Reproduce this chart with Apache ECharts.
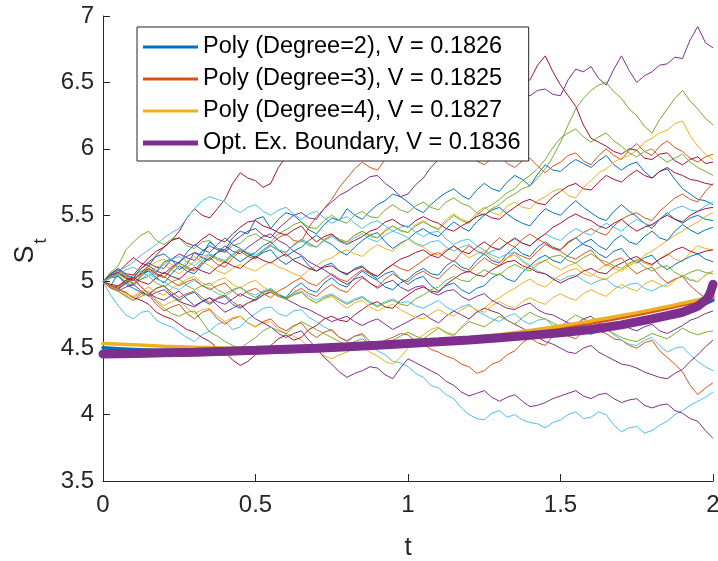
<!DOCTYPE html>
<html>
<head>
<meta charset="utf-8">
<script src="https://cdn.jsdelivr.net/npm/echarts@6/dist/echarts.min.js"></script>
<style>
  html, body { margin: 0; padding: 0; background: #fff; }
  #chart { width: 718px; height: 561px; }
</style>
</head>
<body>
<div id="chart"></div>
<script>
// time grid of the simulated paths (step 0.025)
const times = [0, 0.025, 0.05, 0.075, 0.1, 0.125, 0.15, 0.175, 0.2, 0.225,
  0.25, 0.275, 0.3, 0.325, 0.35, 0.375, 0.4, 0.425, 0.45, 0.475,
  0.5, 0.525, 0.55, 0.575, 0.6, 0.625, 0.65, 0.675, 0.7, 0.725,
  0.75, 0.775, 0.8, 0.825, 0.85, 0.875, 0.9, 0.925, 0.95, 0.975,
  1, 1.025, 1.05, 1.075, 1.1, 1.125, 1.15, 1.175, 1.2, 1.225,
  1.25, 1.275, 1.3, 1.325, 1.35, 1.375, 1.4, 1.425, 1.45, 1.475,
  1.5, 1.525, 1.55, 1.575, 1.6, 1.625, 1.65, 1.675, 1.7, 1.725,
  1.75, 1.775, 1.8, 1.825, 1.85, 1.875, 1.9, 1.925, 1.95, 1.975, 2];

// MATLAB default colour order, cycled over the paths
const pathColors = ['#0072BD', '#D95319', '#EDB120', '#7E2F8E', '#77AC30', '#4DBEEE', '#A2142F'];

// sample paths S_t
const paths = [
  [5.00, 4.97, 5.06, 5.03, 4.98, 5.05, 5.10, 5.07, 5.15, 5.17, 5.09, 5.13, 5.22, 5.20, 5.30, 5.25, 5.24, 5.33, 5.38, 5.36,
   5.47, 5.49, 5.40, 5.47, 5.52, 5.50, 5.45, 5.39, 5.36, 5.43, 5.48, 5.46, 5.55, 5.50, 5.47, 5.53, 5.58, 5.61, 5.66, 5.64,
   5.60, 5.55, 5.52, 5.58, 5.63, 5.67, 5.70, 5.65, 5.62, 5.69, 5.74, 5.70, 5.68, 5.75, 5.80, 5.77, 5.72, 5.81, 5.88, 5.84,
   5.83, 5.88, 5.92, 5.89, 5.86, 5.91, 5.95, 5.88, 5.84, 5.88, 5.90, 5.83, 5.78, 5.83, 5.85, 5.77, 5.70, 5.66, 5.62, 5.61,
   5.58],
  [5.00, 5.04, 5.05, 4.99, 4.97, 5.04, 5.09, 5.05, 5.03, 5.10, 5.14, 5.10, 5.08, 5.14, 5.18, 5.13, 5.11, 5.18, 5.23, 5.19,
   5.17, 5.24, 5.28, 5.33, 5.36, 5.31, 5.30, 5.41, 5.49, 5.55, 5.62, 5.71, 5.78, 5.85, 5.90, 5.86, 5.84, 5.92, 5.98, 6.04,
   6.08, 6.03, 6.02, 6.09, 6.14, 6.09, 6.06, 6.00, 5.96, 5.91, 5.88, 5.93, 5.95, 5.89, 5.86, 5.91, 5.93, 5.87, 5.82, 5.87,
   5.90, 5.95, 5.97, 5.91, 5.88, 5.95, 6.00, 5.95, 5.92, 5.99, 6.04, 5.98, 5.95, 6.02, 6.06, 6.01, 5.98, 5.93, 5.90, 5.94,
   5.96],
  [5.00, 5.03, 5.05, 5.00, 4.98, 5.04, 5.08, 5.11, 5.13, 5.09, 5.06, 5.11, 5.15, 5.19, 5.21, 5.16, 5.14, 5.20, 5.24, 5.20,
   5.19, 5.24, 5.27, 5.23, 5.22, 5.28, 5.31, 5.27, 5.26, 5.32, 5.35, 5.31, 5.29, 5.35, 5.38, 5.34, 5.33, 5.39, 5.42, 5.38,
   5.37, 5.43, 5.46, 5.42, 5.40, 5.47, 5.51, 5.47, 5.45, 5.52, 5.56, 5.52, 5.50, 5.57, 5.60, 5.56, 5.55, 5.61, 5.64, 5.68,
   5.70, 5.65, 5.63, 5.71, 5.76, 5.82, 5.85, 5.90, 5.93, 5.95, 5.99, 6.05, 6.08, 6.12, 6.14, 6.19, 6.21, 6.10, 6.02, 5.96,
   5.92],
  [5.00, 5.05, 5.08, 5.04, 5.03, 5.10, 5.14, 5.11, 5.10, 5.17, 5.21, 5.18, 5.16, 5.23, 5.27, 5.24, 5.22, 5.30, 5.34, 5.38,
   5.40, 5.35, 5.33, 5.40, 5.45, 5.50, 5.52, 5.48, 5.47, 5.55, 5.60, 5.65, 5.68, 5.72, 5.75, 5.79, 5.80, 5.74, 5.70, 5.64,
   5.66, 5.73, 5.78, 5.86, 5.92, 5.98, 6.05, 6.10, 6.15, 6.19, 6.22, 6.27, 6.30, 6.33, 6.36, 6.41, 6.40, 6.44, 6.45, 6.41,
   6.40, 6.52, 6.60, 6.58, 6.62, 6.53, 6.48, 6.60, 6.70, 6.59, 6.50, 6.55, 6.58, 6.63, 6.64, 6.69, 6.68, 6.82, 6.92, 6.80,
   6.76],
  [5.00, 5.07, 5.12, 5.24, 5.30, 5.35, 5.38, 5.31, 5.28, 5.32, 5.33, 5.27, 5.25, 5.30, 5.31, 5.25, 5.22, 5.27, 5.29, 5.34,
   5.36, 5.32, 5.30, 5.36, 5.39, 5.43, 5.45, 5.41, 5.40, 5.46, 5.50, 5.46, 5.44, 5.50, 5.53, 5.49, 5.48, 5.54, 5.58, 5.54,
   5.52, 5.57, 5.60, 5.56, 5.54, 5.60, 5.63, 5.59, 5.57, 5.52, 5.50, 5.55, 5.58, 5.63, 5.66, 5.70, 5.72, 5.78, 5.85, 5.94,
   6.05, 6.18, 6.30, 6.38, 6.44, 6.48, 6.50, 6.43, 6.38, 6.30, 6.25, 6.17, 6.12, 6.22, 6.30, 6.38, 6.44, 6.36, 6.30, 6.23,
   6.18],
  [5.00, 4.90, 4.82, 4.75, 4.72, 4.77, 4.78, 4.71, 4.68, 4.66, 4.62, 4.58, 4.55, 4.60, 4.63, 4.68, 4.70, 4.64, 4.66, 4.72,
   4.76, 4.80, 4.81, 4.76, 4.74, 4.78, 4.79, 4.73, 4.70, 4.66, 4.63, 4.58, 4.56, 4.59, 4.60, 4.52, 4.48, 4.45, 4.40, 4.39,
   4.36, 4.31, 4.28, 4.22, 4.20, 4.15, 4.12, 4.05, 4.00, 3.97, 3.96, 4.01, 4.03, 3.98, 4.00, 3.96, 3.94, 3.93, 3.90, 3.94,
   3.96, 4.00, 4.02, 3.97, 3.98, 4.02, 4.00, 3.92, 3.87, 3.90, 3.91, 3.86, 3.88, 3.92, 3.95, 4.00, 4.03, 4.07, 4.10, 4.13,
   4.17],
  [5.00, 5.04, 5.07, 5.13, 5.18, 5.14, 5.12, 5.20, 5.26, 5.31, 5.38, 5.48, 5.55, 5.50, 5.48, 5.55, 5.62, 5.74, 5.82, 5.78,
   5.76, 5.71, 5.74, 5.86, 5.94, 5.92, 5.98, 6.02, 6.05, 6.09, 6.12, 6.16, 6.18, 6.13, 6.15, 6.19, 6.22, 6.26, 6.28, 6.23,
   6.24, 6.28, 6.30, 6.33, 6.35, 6.30, 6.28, 6.33, 6.36, 6.40, 6.42, 6.37, 6.38, 6.42, 6.45, 6.49, 6.52, 6.63, 6.70, 6.58,
   6.48, 6.40, 6.32, 6.18, 6.08, 6.05, 6.02, 5.98, 5.96, 6.00, 5.99, 5.93, 5.92, 5.96, 5.97, 5.91, 5.88, 5.92, 5.94, 5.89,
   5.90],

  [5.00, 4.96, 4.94, 4.99, 5.03, 5.06, 5.08, 5.03, 4.99, 5.06, 5.12, 5.08, 5.06, 5.13, 5.18, 5.22, 5.24, 5.19, 5.15, 5.19,
   5.22, 5.27, 5.30, 5.24, 5.19, 5.23, 5.26, 5.31, 5.35, 5.31, 5.28, 5.23, 5.20, 5.26, 5.31, 5.35, 5.37, 5.30, 5.25, 5.29,
   5.32, 5.37, 5.40, 5.36, 5.34, 5.40, 5.45, 5.41, 5.38, 5.45, 5.50, 5.54, 5.56, 5.51, 5.47, 5.44, 5.42, 5.49, 5.55, 5.52,
   5.50, 5.56, 5.61, 5.56, 5.52, 5.48, 5.46, 5.53, 5.58, 5.53, 5.49, 5.44, 5.40, 5.47, 5.52, 5.47, 5.44, 5.48, 5.50, 5.47,
   5.46],
  [5.00, 4.95, 4.93, 4.89, 4.86, 4.91, 4.90, 4.83, 4.78, 4.81, 4.83, 4.76, 4.72, 4.77, 4.79, 4.72, 4.68, 4.72, 4.74, 4.69,
   4.66, 4.70, 4.72, 4.66, 4.63, 4.67, 4.69, 4.62, 4.58, 4.62, 4.64, 4.58, 4.55, 4.59, 4.61, 4.55, 4.52, 4.56, 4.58, 4.61,
   4.60, 4.55, 4.53, 4.49, 4.47, 4.44, 4.42, 4.38, 4.36, 4.31, 4.33, 4.38, 4.40, 4.45, 4.48, 4.54, 4.58, 4.54, 4.52, 4.59,
   4.63, 4.59, 4.57, 4.63, 4.68, 4.63, 4.61, 4.57, 4.56, 4.52, 4.50, 4.54, 4.56, 4.48, 4.43, 4.38, 4.32, 4.22, 4.15, 4.20,
   4.24],
  [5.00, 4.97, 4.95, 4.90, 4.88, 4.92, 4.93, 4.86, 4.82, 4.85, 4.87, 4.80, 4.76, 4.79, 4.80, 4.74, 4.70, 4.73, 4.74, 4.69,
   4.66, 4.69, 4.70, 4.64, 4.61, 4.59, 4.56, 4.51, 4.48, 4.44, 4.42, 4.45, 4.47, 4.50, 4.51, 4.47, 4.44, 4.40, 4.38, 4.43,
   4.50, 4.56, 4.60, 4.64, 4.66, 4.61, 4.59, 4.66, 4.72, 4.77, 4.80, 4.85, 4.88, 4.92, 4.95, 4.99, 5.02, 4.98, 4.96, 5.01,
   5.05, 5.08, 5.10, 5.06, 5.04, 5.09, 5.13, 5.10, 5.08, 5.13, 5.17, 5.14, 5.12, 5.17, 5.21, 5.17, 5.15, 5.22, 5.27, 5.25,
   5.24],
  [5.00, 4.97, 4.95, 4.99, 5.02, 4.96, 4.91, 4.88, 4.86, 4.90, 4.93, 4.87, 4.82, 4.85, 4.88, 4.82, 4.77, 4.80, 4.83, 4.77,
   4.72, 4.69, 4.66, 4.61, 4.58, 4.61, 4.63, 4.56, 4.50, 4.43, 4.38, 4.32, 4.28, 4.31, 4.33, 4.36, 4.35, 4.30, 4.27, 4.35,
   4.42, 4.39, 4.36, 4.33, 4.30, 4.25, 4.22, 4.17, 4.14, 4.16, 4.18, 4.13, 4.10, 4.13, 4.15, 4.10, 4.06, 4.07, 4.09, 4.12,
   4.14, 4.16, 4.18, 4.14, 4.12, 4.15, 4.16, 4.12, 4.09, 4.11, 4.12, 4.07, 4.05, 4.07, 4.08, 4.03, 4.01, 3.97, 3.95, 3.88,
   3.82],
  [5.00, 4.97, 4.96, 5.01, 5.05, 5.08, 5.10, 5.06, 5.03, 5.09, 5.14, 5.11, 5.09, 5.15, 5.20, 5.17, 5.15, 5.20, 5.24, 5.21,
   5.18, 5.23, 5.27, 5.24, 5.22, 5.28, 5.32, 5.29, 5.26, 5.31, 5.35, 5.32, 5.30, 5.35, 5.38, 5.35, 5.33, 5.38, 5.42, 5.39,
   5.37, 5.42, 5.45, 5.42, 5.39, 5.45, 5.50, 5.46, 5.44, 5.50, 5.55, 5.58, 5.62, 5.67, 5.70, 5.76, 5.80, 5.85, 5.92, 6.01,
   6.08, 6.12, 6.15, 6.09, 6.05, 6.09, 6.12, 6.06, 6.02, 5.97, 5.94, 5.98, 6.00, 5.94, 5.90, 5.93, 5.96, 5.90, 5.86, 5.83,
   5.80],
  [5.00, 5.03, 5.04, 4.99, 4.97, 5.02, 5.06, 5.02, 5.00, 4.96, 4.94, 4.98, 5.01, 4.97, 4.95, 4.91, 4.89, 4.93, 4.96, 4.92,
   4.90, 4.93, 4.95, 4.91, 4.88, 4.91, 4.93, 4.89, 4.86, 4.89, 4.91, 4.87, 4.84, 4.87, 4.89, 4.85, 4.82, 4.85, 4.87, 4.84,
   4.85, 4.82, 4.80, 4.83, 4.86, 4.81, 4.78, 4.81, 4.83, 4.78, 4.75, 4.72, 4.70, 4.74, 4.76, 4.71, 4.68, 4.71, 4.72, 4.67,
   4.64, 4.67, 4.69, 4.64, 4.60, 4.63, 4.65, 4.60, 4.56, 4.53, 4.52, 4.56, 4.58, 4.52, 4.47, 4.50, 4.51, 4.45, 4.40, 4.36,
   4.33],
  [5.00, 5.06, 5.10, 5.06, 5.05, 5.12, 5.18, 5.23, 5.26, 5.31, 5.33, 5.29, 5.27, 5.32, 5.36, 5.32, 5.30, 5.36, 5.41, 5.45,
   5.46, 5.42, 5.40, 5.37, 5.35, 5.39, 5.42, 5.35, 5.30, 5.34, 5.36, 5.31, 5.28, 5.31, 5.34, 5.38, 5.40, 5.45, 5.47, 5.43,
   5.41, 5.46, 5.49, 5.46, 5.44, 5.40, 5.38, 5.42, 5.45, 5.49, 5.51, 5.48, 5.47, 5.52, 5.56, 5.60, 5.62, 5.59, 5.58, 5.64,
   5.68, 5.72, 5.74, 5.70, 5.69, 5.75, 5.80, 5.77, 5.75, 5.80, 5.84, 5.80, 5.78, 5.83, 5.86, 5.82, 5.80, 5.77, 5.76, 5.74,
   5.73],

  [5.00, 5.03, 5.04, 4.98, 4.95, 4.92, 4.90, 4.95, 4.97, 4.90, 4.86, 4.90, 4.92, 4.86, 4.83, 4.87, 4.89, 4.83, 4.80, 4.84,
   4.87, 4.92, 4.94, 4.90, 4.88, 4.95, 4.99, 4.94, 4.92, 4.99, 5.03, 4.98, 4.96, 5.03, 5.08, 5.04, 5.01, 4.96, 4.94, 4.99,
   5.02, 5.07, 5.10, 5.06, 5.05, 5.12, 5.16, 5.11, 5.09, 5.16, 5.21, 5.16, 5.14, 5.21, 5.26, 5.21, 5.19, 5.26, 5.30, 5.26,
   5.24, 5.30, 5.33, 5.28, 5.26, 5.21, 5.18, 5.23, 5.25, 5.18, 5.14, 5.18, 5.20, 5.13, 5.09, 5.13, 5.16, 5.19, 5.21, 5.17,
   5.15],
  [5.00, 4.97, 4.96, 5.00, 5.02, 4.96, 4.91, 4.95, 4.97, 4.92, 4.88, 4.91, 4.93, 4.88, 4.84, 4.88, 4.90, 4.85, 4.81, 4.84,
   4.86, 4.90, 4.93, 4.89, 4.87, 4.92, 4.95, 4.91, 4.89, 4.94, 4.98, 4.94, 4.92, 4.98, 5.03, 4.99, 4.96, 5.02, 5.06, 5.02,
   5.00, 5.05, 5.08, 5.04, 5.02, 5.08, 5.13, 5.09, 5.07, 5.13, 5.18, 5.14, 5.12, 5.18, 5.22, 5.19, 5.17, 5.23, 5.28, 5.25,
   5.24, 5.29, 5.33, 5.37, 5.40, 5.37, 5.35, 5.42, 5.47, 5.50, 5.52, 5.48, 5.46, 5.53, 5.58, 5.63, 5.66, 5.62, 5.60, 5.68,
   5.74],
  [5.00, 5.05, 5.08, 5.04, 5.02, 5.07, 5.11, 5.15, 5.17, 5.13, 5.10, 5.15, 5.19, 5.15, 5.12, 5.08, 5.06, 5.10, 5.13, 5.10,
   5.08, 5.12, 5.15, 5.11, 5.09, 5.06, 5.04, 5.09, 5.12, 5.16, 5.18, 5.22, 5.24, 5.21, 5.19, 5.24, 5.28, 5.25, 5.23, 5.28,
   5.32, 5.28, 5.26, 5.22, 5.20, 5.24, 5.27, 5.22, 5.18, 5.21, 5.23, 5.18, 5.15, 5.18, 5.20, 5.15, 5.11, 5.14, 5.16, 5.12,
   5.09, 5.12, 5.14, 5.09, 5.06, 5.03, 5.02, 5.06, 5.09, 5.12, 5.15, 5.20, 5.23, 5.27, 5.31, 5.35, 5.38, 5.42, 5.45, 5.49,
   5.52],
  [5.00, 4.96, 4.93, 4.96, 4.98, 4.93, 4.89, 4.92, 4.94, 4.89, 4.85, 4.83, 4.81, 4.85, 4.88, 4.85, 4.83, 4.87, 4.91, 4.88,
   4.86, 4.90, 4.92, 4.89, 4.87, 4.84, 4.81, 4.79, 4.76, 4.73, 4.70, 4.72, 4.74, 4.70, 4.67, 4.70, 4.72, 4.68, 4.64, 4.67,
   4.70, 4.73, 4.76, 4.72, 4.69, 4.74, 4.78, 4.75, 4.72, 4.77, 4.80, 4.78, 4.76, 4.71, 4.68, 4.65, 4.62, 4.58, 4.55, 4.53,
   4.50, 4.47, 4.46, 4.50, 4.52, 4.47, 4.44, 4.41, 4.38, 4.37, 4.35, 4.32, 4.30, 4.28, 4.27, 4.31, 4.34, 4.40, 4.45, 4.51,
   4.56],
  [5.00, 4.96, 4.93, 4.89, 4.86, 4.89, 4.91, 4.85, 4.80, 4.76, 4.74, 4.77, 4.78, 4.70, 4.62, 4.59, 4.55, 4.52, 4.50, 4.54,
   4.58, 4.63, 4.66, 4.63, 4.61, 4.66, 4.70, 4.67, 4.64, 4.61, 4.58, 4.55, 4.52, 4.55, 4.57, 4.53, 4.50, 4.53, 4.56, 4.59,
   4.62, 4.59, 4.57, 4.61, 4.65, 4.62, 4.60, 4.65, 4.70, 4.68, 4.66, 4.70, 4.74, 4.71, 4.68, 4.73, 4.77, 4.74, 4.72, 4.69,
   4.66, 4.71, 4.75, 4.72, 4.70, 4.67, 4.64, 4.61, 4.58, 4.56, 4.55, 4.58, 4.61, 4.59, 4.57, 4.61, 4.65, 4.62, 4.60, 4.62,
   4.63],
  [5.00, 5.05, 5.08, 5.11, 5.15, 5.20, 5.24, 5.28, 5.33, 5.37, 5.40, 5.48, 5.55, 5.61, 5.64, 5.62, 5.60, 5.55, 5.52, 5.56,
   5.58, 5.53, 5.50, 5.54, 5.56, 5.51, 5.47, 5.51, 5.53, 5.48, 5.44, 5.47, 5.49, 5.44, 5.40, 5.44, 5.46, 5.42, 5.38, 5.41,
   5.42, 5.37, 5.34, 5.37, 5.38, 5.32, 5.28, 5.31, 5.32, 5.27, 5.24, 5.20, 5.18, 5.21, 5.22, 5.16, 5.12, 5.08, 5.06, 5.03,
   5.01, 5.04, 5.05, 5.01, 4.98, 5.01, 5.02, 4.97, 4.95, 4.98, 4.99, 4.95, 4.93, 4.96, 4.98, 5.02, 5.04, 5.01, 5.00, 5.05,
   5.08],
  [5.00, 4.96, 4.94, 4.92, 4.88, 4.86, 4.83, 4.77, 4.74, 4.72, 4.68, 4.64, 4.62, 4.58, 4.55, 4.50, 4.47, 4.41, 4.37, 4.40,
   4.45, 4.49, 4.52, 4.57, 4.60, 4.56, 4.58, 4.64, 4.67, 4.72, 4.74, 4.71, 4.70, 4.75, 4.79, 4.83, 4.85, 4.81, 4.80, 4.86,
   4.90, 4.94, 4.96, 4.93, 4.92, 4.98, 5.02, 5.06, 5.08, 5.05, 5.04, 5.09, 5.12, 5.15, 5.16, 5.12, 5.10, 5.07, 5.06, 5.02,
   4.99, 5.02, 5.04, 5.08, 5.10, 5.07, 5.06, 5.11, 5.14, 5.17, 5.19, 5.15, 5.13, 5.17, 5.20, 5.24, 5.26, 5.23, 5.21, 5.23,
   5.24],

  [5.00, 5.06, 5.09, 5.05, 5.03, 5.10, 5.15, 5.19, 5.21, 5.16, 5.14, 5.22, 5.28, 5.24, 5.22, 5.28, 5.33, 5.28, 5.25, 5.21,
   5.18, 5.22, 5.24, 5.17, 5.13, 5.17, 5.19, 5.12, 5.08, 5.12, 5.14, 5.08, 5.05, 5.10, 5.12, 5.06, 5.02, 5.06, 5.08, 5.02,
   4.98, 5.02, 5.04, 4.97, 4.93, 4.97, 4.99, 4.94, 4.91, 4.95, 4.97, 5.03, 5.06, 5.02, 5.00, 5.07, 5.12, 5.17, 5.20, 5.16,
   5.14, 5.20, 5.25, 5.29, 5.32, 5.27, 5.24, 5.31, 5.35, 5.30, 5.28, 5.34, 5.38, 5.33, 5.31, 5.38, 5.43, 5.39, 5.36, 5.39,
   5.41],
  [5.00, 5.05, 5.07, 5.03, 5.01, 5.06, 5.10, 5.06, 5.04, 5.00, 4.97, 5.00, 5.02, 4.97, 4.94, 4.97, 4.99, 4.93, 4.89, 4.93,
   4.95, 4.91, 4.88, 4.93, 4.96, 5.00, 5.03, 4.99, 4.97, 5.02, 5.06, 5.02, 5.00, 5.05, 5.09, 5.06, 5.04, 5.09, 5.13, 5.10,
   5.08, 5.12, 5.16, 5.20, 5.22, 5.18, 5.15, 5.22, 5.27, 5.23, 5.21, 5.28, 5.33, 5.29, 5.26, 5.32, 5.36, 5.32, 5.29, 5.25,
   5.23, 5.19, 5.17, 5.21, 5.24, 5.17, 5.12, 5.16, 5.18, 5.11, 5.06, 5.09, 5.11, 5.04, 4.99, 5.02, 5.04, 4.97, 4.92, 4.88,
   4.86],
  [5.00, 4.96, 4.94, 4.91, 4.89, 4.93, 4.96, 4.92, 4.90, 4.95, 4.98, 5.02, 5.04, 4.99, 4.97, 5.01, 5.03, 4.98, 4.95, 4.99,
   5.01, 4.96, 4.93, 4.89, 4.87, 4.90, 4.92, 4.87, 4.84, 4.87, 4.89, 4.84, 4.80, 4.84, 4.86, 4.81, 4.78, 4.81, 4.83, 4.79,
   4.76, 4.73, 4.72, 4.76, 4.79, 4.76, 4.74, 4.79, 4.82, 4.79, 4.77, 4.82, 4.85, 4.82, 4.80, 4.85, 4.88, 4.85, 4.83, 4.88,
   4.91, 4.88, 4.86, 4.91, 4.94, 4.91, 4.89, 4.94, 4.98, 4.95, 4.93, 4.98, 5.01, 4.98, 4.96, 5.01, 5.05, 5.02, 5.00, 5.05,
   5.08],
  [5.00, 5.05, 5.07, 5.03, 5.01, 5.07, 5.12, 5.08, 5.06, 5.11, 5.15, 5.19, 5.22, 5.18, 5.16, 5.22, 5.27, 5.23, 5.21, 5.26,
   5.30, 5.34, 5.36, 5.31, 5.28, 5.23, 5.20, 5.15, 5.12, 5.09, 5.05, 5.01, 4.98, 5.02, 5.04, 4.99, 4.95, 4.99, 5.01, 4.96,
   4.93, 4.96, 4.97, 4.92, 4.90, 4.93, 4.94, 4.89, 4.86, 4.89, 4.91, 4.86, 4.83, 4.80, 4.79, 4.82, 4.84, 4.79, 4.76, 4.75,
   4.72, 4.69, 4.68, 4.72, 4.74, 4.69, 4.66, 4.69, 4.70, 4.65, 4.63, 4.66, 4.68, 4.63, 4.61, 4.64, 4.67, 4.71, 4.73, 4.76,
   4.78],
  [5.00, 5.04, 5.06, 5.02, 4.99, 5.02, 5.04, 4.99, 4.96, 5.00, 5.02, 4.97, 4.94, 4.97, 4.99, 4.94, 4.91, 4.94, 4.96, 4.91,
   4.88, 4.92, 4.94, 4.90, 4.87, 4.90, 4.92, 4.87, 4.84, 4.88, 4.90, 4.86, 4.83, 4.86, 4.88, 4.84, 4.81, 4.84, 4.86, 4.83,
   4.82, 4.87, 4.90, 4.94, 4.96, 5.01, 5.04, 5.01, 5.00, 5.05, 5.09, 5.06, 5.05, 5.10, 5.13, 5.10, 5.08, 5.13, 5.16, 5.19,
   5.20, 5.16, 5.14, 5.18, 5.21, 5.17, 5.15, 5.12, 5.10, 5.14, 5.16, 5.11, 5.08, 5.11, 5.12, 5.07, 5.04, 5.07, 5.09, 5.07,
   5.06],
  [5.00, 5.03, 5.05, 5.09, 5.11, 5.07, 5.04, 5.09, 5.13, 5.17, 5.19, 5.15, 5.12, 5.17, 5.21, 5.18, 5.16, 5.21, 5.25, 5.22,
   5.20, 5.24, 5.27, 5.24, 5.22, 5.27, 5.31, 5.28, 5.26, 5.31, 5.34, 5.30, 5.28, 5.33, 5.36, 5.32, 5.30, 5.35, 5.38, 5.36,
   5.33, 5.29, 5.27, 5.30, 5.31, 5.26, 5.23, 5.26, 5.28, 5.23, 5.20, 5.23, 5.25, 5.29, 5.32, 5.29, 5.27, 5.32, 5.36, 5.33,
   5.31, 5.36, 5.40, 5.37, 5.35, 5.40, 5.44, 5.41, 5.38, 5.43, 5.47, 5.44, 5.42, 5.47, 5.51, 5.55, 5.57, 5.54, 5.53, 5.57,
   5.60],
  [5.00, 4.98, 4.97, 5.01, 5.03, 5.00, 4.98, 5.03, 5.07, 5.04, 5.02, 5.07, 5.11, 5.08, 5.06, 5.11, 5.15, 5.12, 5.10, 5.15,
   5.19, 5.16, 5.14, 5.18, 5.21, 5.16, 5.13, 5.10, 5.08, 5.11, 5.12, 5.08, 5.06, 5.09, 5.11, 5.07, 5.04, 5.09, 5.13, 5.17,
   5.19, 5.22, 5.24, 5.20, 5.18, 5.23, 5.27, 5.23, 5.21, 5.26, 5.30, 5.26, 5.24, 5.29, 5.33, 5.29, 5.27, 5.32, 5.36, 5.41,
   5.44, 5.48, 5.51, 5.48, 5.46, 5.42, 5.40, 5.44, 5.47, 5.42, 5.38, 5.41, 5.43, 5.47, 5.50, 5.47, 5.45, 5.50, 5.53, 5.55,
   5.56]
];

// fitted exercise boundaries (step 0.1)
const boundaryTimes = [0, 0.1, 0.2, 0.3, 0.4, 0.5, 0.6, 0.7, 0.8, 0.9, 1,
  1.1, 1.2, 1.3, 1.4, 1.5, 1.6, 1.7, 1.8, 1.9, 2];
const poly2 = [4.503, 4.490, 4.482, 4.478, 4.477, 4.479, 4.484, 4.491, 4.500, 4.512, 4.526,
  4.542, 4.560, 4.580, 4.600, 4.620, 4.642, 4.670, 4.712, 4.765, 4.860];
const poly3 = [4.440, 4.443, 4.447, 4.452, 4.458, 4.465, 4.473, 4.483, 4.495, 4.509, 4.525,
  4.544, 4.566, 4.591, 4.620, 4.652, 4.689, 4.730, 4.776, 4.827, 4.883];
const poly4 = [4.535, 4.525, 4.515, 4.507, 4.500, 4.497, 4.497, 4.500, 4.507, 4.518, 4.535,
  4.553, 4.575, 4.600, 4.633, 4.667, 4.705, 4.745, 4.790, 4.838, 4.888];

// optimal exercise boundary (denser near expiry)
const optTimes = [0, 0.1, 0.2, 0.3, 0.4, 0.5, 0.6, 0.7, 0.8, 0.9, 1,
  1.1, 1.2, 1.3, 1.4, 1.5, 1.6, 1.7, 1.8, 1.85, 1.9, 1.95, 1.98, 1.99, 2];
const optBoundary = [4.455, 4.460, 4.465, 4.470, 4.477, 4.484, 4.492, 4.500, 4.510, 4.521, 4.535,
  4.548, 4.562, 4.578, 4.596, 4.615, 4.640, 4.675, 4.720, 4.745, 4.770, 4.815, 4.870, 4.910, 4.980];

const legendNames = [
  'Poly (Degree=2), V = 0.1826',
  'Poly (Degree=3), V = 0.1825',
  'Poly (Degree=4), V = 0.1827',
  'Opt. Ex. Boundary, V = 0.1836'
];

const yTicks = [3.5, 4, 4.5, 5, 5.5, 6, 6.5, 7];
const xTicks = [0, 0.5, 1, 1.5, 2];

const zip = (xs, ys) => ys.map((v, i) => [xs[i], v]).filter(d => d[0] !== undefined);

const axisColor = '#262626';
const fontFamily = '"Liberation Sans", Arial, Helvetica, sans-serif';

const series = paths.map((p, i) => ({
  name: 'path' + i,
  type: 'line',
  data: zip(times, p),
  symbol: 'none',
  silent: true,
  z: 2,
  lineStyle: { color: pathColors[i % pathColors.length], width: 1 }
}));

const boundaryColors = ['#0072BD', '#D95319', '#EDB120', '#7E2F8E'];
const boundaryData = [zip(boundaryTimes, poly2), zip(boundaryTimes, poly3), zip(boundaryTimes, poly4), zip(optTimes, optBoundary)];
const boundaryWidths = [3.5, 3.5, 3.5, 9];

legendNames.forEach((name, k) => {
  series.push({
    name: name,
    type: 'line',
    data: boundaryData[k],
    symbol: 'none',
    smooth: k < 3,
    z: 3 + k,
    lineStyle: { color: boundaryColors[k], width: boundaryWidths[k], cap: 'round' },
    itemStyle: { color: boundaryColors[k] }
  });
});

const chart = echarts.init(document.getElementById('chart'), null, { renderer: 'canvas' });

chart.setOption({
  animation: false,
  backgroundColor: '#fff',
  textStyle: { fontFamily: fontFamily },
  // fixed plot box; don't let v6 shrink it for the clipped "2" label
  grid: { left: 103, right: 5, top: 16, bottom: 80, outerBoundsMode: 'none' },
  legend: {
    // plain bars as icons: thin for the fits, thicker for the optimal boundary
    data: legendNames.map((n, k) => ({
      name: n,
      icon: k === 3 ? 'path://M0,0H55V5H0Z' : 'path://M0,0H55V3H0Z'
    })),
    orient: 'vertical',
    left: 137,
    top: 27,
    itemWidth: 55,
    itemHeight: 14,
    itemGap: 8,
    padding: [8, 8, 6, 6],
    borderColor: axisColor,
    borderWidth: 1,
    borderRadius: 0,
    backgroundColor: '#fff',
    selectedMode: false,
    itemStyle: { borderWidth: 0 },
    textStyle: { fontSize: 23.5, color: '#000', lineHeight: 22, fontFamily: fontFamily }
  },
  // subscript of the y label
  graphic: [{
    type: 'text',
    x: 41,
    y: 241,
    rotation: Math.PI / 2,
    silent: true,
    style: { text: 't', fontSize: 19, fill: axisColor, align: 'center', verticalAlign: 'middle', fontFamily: fontFamily }
  }],
  xAxis: {
    type: 'value',
    min: xTicks[0],
    max: xTicks[xTicks.length - 1],
    interval: 0.5,
    name: 't',
    nameLocation: 'middle',
    nameGap: 54,
    nameTextStyle: { fontSize: 26, color: axisColor, fontFamily: fontFamily },
    axisLine: { onZero: false, lineStyle: { color: axisColor, width: 1 } },
    axisTick: { inside: true, length: 7, lineStyle: { color: axisColor } },
    axisLabel: { fontSize: 24, color: axisColor, margin: 12, showMaxLabel: true, showMinLabel: true },
    splitLine: { show: false }
  },
  yAxis: {
    type: 'value',
    min: yTicks[0],
    max: yTicks[yTicks.length - 1],
    interval: 0.5,
    name: '{s|S}',
    nameLocation: 'middle',
    nameGap: 64,
    nameRotate: 90,
    nameTextStyle: {
      color: axisColor,
      fontFamily: fontFamily,
      rich: {
        s: { fontSize: 27, color: axisColor, padding: [0, 12, 0, 0], fontFamily: fontFamily }
      }
    },
    axisLine: { show: true, lineStyle: { color: axisColor, width: 1 } },
    axisTick: { show: true, inside: true, length: 7, lineStyle: { color: axisColor } },
    axisLabel: { fontSize: 24, color: axisColor, margin: 9, showMaxLabel: true, showMinLabel: true },
    splitLine: { show: false }
  },
  series: series
});
</script>
</body>
</html>
